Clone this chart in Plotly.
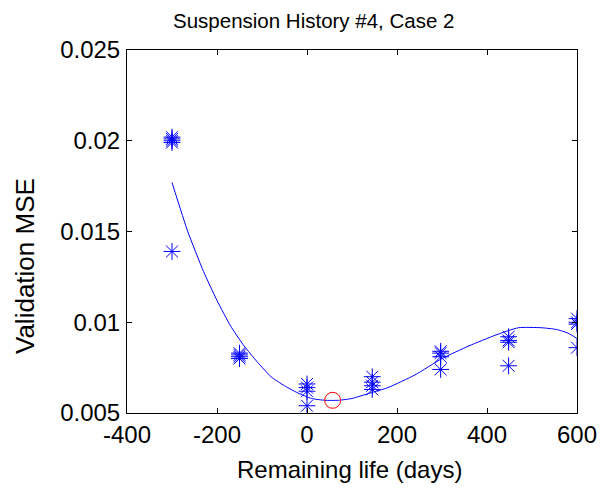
import plotly.graph_objects as go

# Observed validation MSE values (x = remaining life in days)
obs_x = [-300, -300, -300, -300, -300,
         -150, -150, -150, -150,
         0, 0, 0, 0,
         145, 145, 145, 145,
         297, 297, 297, 297,
         448, 448, 448, 448,
         600, 600, 600, 600]
obs_y = [0.0202, 0.0201, 0.0200, 0.0199, 0.0139,
         0.0083, 0.0082, 0.0081, 0.0080,
         0.0066, 0.0064, 0.0062, 0.0054,
         0.0070, 0.0067, 0.0065, 0.0063,
         0.0084, 0.0083, 0.0081, 0.0074,
         0.0092, 0.0090, 0.0089, 0.0076,
         0.0102, 0.0100, 0.0099, 0.0086]

# Fitted curve
fit_x = [-300, -265, -230, -200, -170, -140, -110, -80, -50, -20, 10, 40, 70, 100,
         140, 180, 240, 300, 360, 420, 470, 520, 555, 580, 600]
fit_y = [0.0177, 0.0150, 0.0128, 0.0112, 0.0098, 0.0087, 0.0078, 0.0070, 0.0065,
         0.0061, 0.0058, 0.0057, 0.0057, 0.0058, 0.0061, 0.0064, 0.0071, 0.0080,
         0.0087, 0.0093, 0.0097, 0.0097, 0.0096, 0.0094, 0.0091]

# Estimated optimum
opt_x = [57]
opt_y = [0.0057]

y_ticks = [0.005, 0.01, 0.015, 0.02, 0.025]
y_tick_text = ["0.005", "0.01", "0.015", "0.02", "0.025"]
x_ticks = [-400, -200, 0, 200, 400, 600]
x_tick_text = ["-400", "-200", "0", "200", "400", "600"]

blue = "rgb(0,0,255)"
fig = go.Figure()
fig.add_trace(go.Scatter(x=fit_x, y=fit_y, mode="lines",
                         line=dict(color=blue, width=1, shape="spline", smoothing=0.5),
                         showlegend=False))
fig.add_trace(go.Scatter(x=obs_x, y=obs_y, mode="markers",
                         marker=dict(symbol="asterisk-open", size=14,
                                     line=dict(color=blue, width=1), color=blue),
                         showlegend=False))
fig.add_trace(go.Scatter(x=opt_x, y=opt_y, mode="markers",
                         marker=dict(symbol="circle-open", size=16,
                                     line=dict(color="red", width=1), color="red"),
                         showlegend=False))

font = "Arial, Liberation Sans, sans-serif"
axis_common = dict(showline=True, linecolor="black", linewidth=1, mirror="ticks",
                   ticks="inside", ticklen=5, tickcolor="black", showgrid=False,
                   zeroline=False, automargin=False,
                   tickfont=dict(family=font, size=24, color="black"))

L, R, T, B = 127, 36, 50, 77
fig.update_layout(
    width=613, height=490,
    margin=dict(l=L, r=R, t=T, b=B, autoexpand=False),
    paper_bgcolor="white", plot_bgcolor="white",
    xaxis=dict(range=[-400, 600], tickvals=x_ticks, ticktext=x_tick_text,
               ticklabelstandoff=0, **axis_common),
    yaxis=dict(range=[0.005, 0.025], tickvals=y_ticks, ticktext=y_tick_text,
               ticklabelstandoff=1, **axis_common),
)

pw = 613 - L - R
ph = 490 - T - B
def px_to_paper_x(px):
    return (px - L) / pw
def px_to_paper_y(py):
    return (490 - B - py) / ph

fig.update_layout(annotations=[
    dict(text="Suspension History #4, Case 2", xref="paper", yref="paper",
         x=px_to_paper_x(313), y=px_to_paper_y(21), xanchor="center", yanchor="middle",
         showarrow=False, font=dict(family=font, size=20.5, color="black")),
    dict(text="Remaining life (days)", xref="paper", yref="paper",
         x=px_to_paper_x(349), y=px_to_paper_y(470), xanchor="center", yanchor="middle",
         showarrow=False, font=dict(family=font, size=24, color="black")),
    dict(text="Validation MSE", xref="paper", yref="paper", textangle=-90,
         x=px_to_paper_x(25), y=px_to_paper_y(266), xanchor="center", yanchor="middle",
         showarrow=False, font=dict(family=font, size=26, color="black")),
])

fig.write_html("out.html", config={"displayModeBar": False})

# remove default browser body margin so the figure sits at the page origin
with open("out.html", "r", encoding="utf-8") as f:
    html = f.read()
html = html.replace("<head>", "<head><style>html,body{margin:0;padding:0;overflow:hidden;}</style>", 1)
with open("out.html", "w", encoding="utf-8") as f:
    f.write(html)
